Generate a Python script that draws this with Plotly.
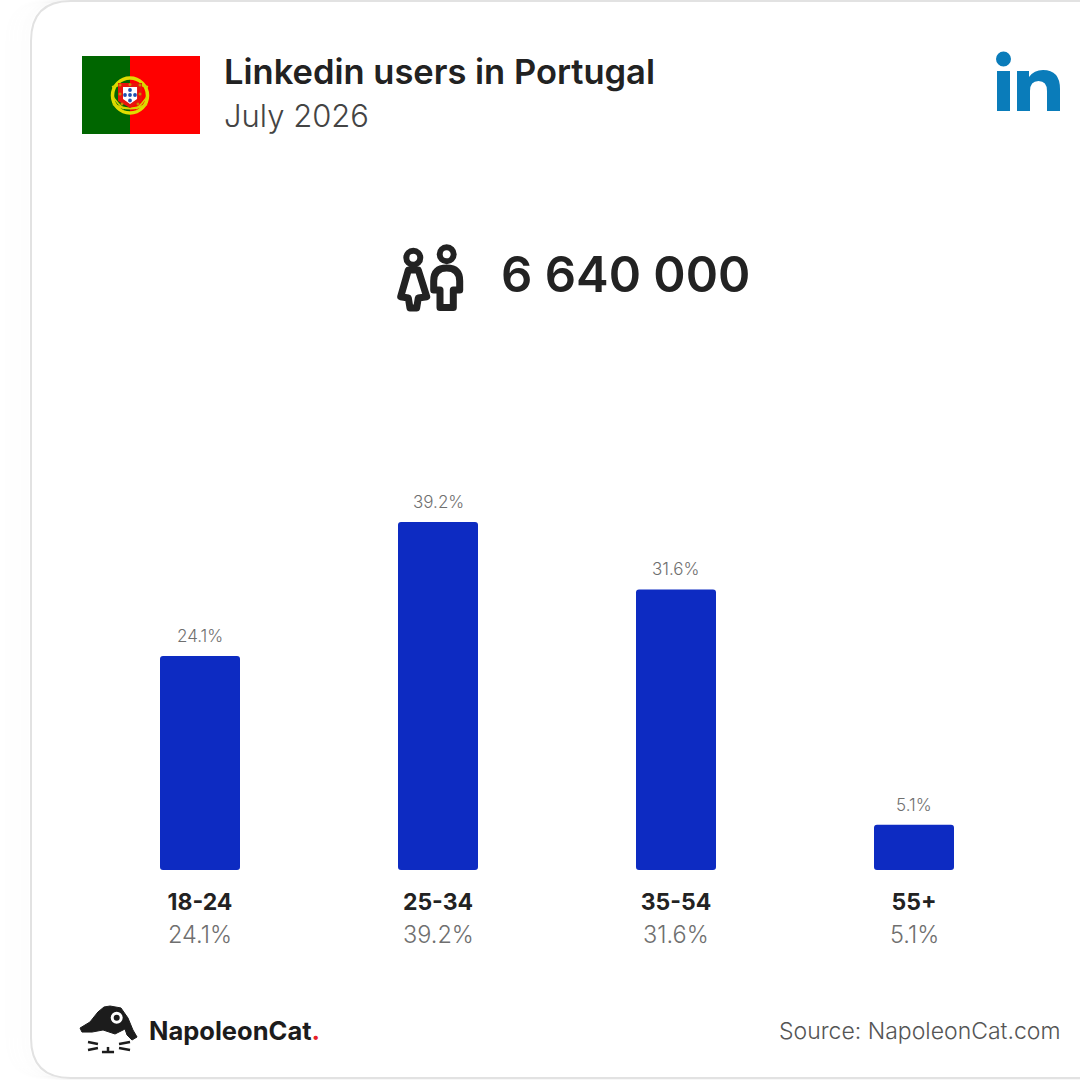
import plotly.graph_objects as go

age_groups = ["18-24", "25-34", "35-54", "55+"]
shares = [24.1, 39.2, 31.6, 5.1]
total_users = "6 640 000"
title_text = "Linkedin users in Portugal"
date_text = "July 2026"
source_text = "Source: NapoleonCat.com"

SANS = "Inter"
DARK = "#222222"
GREY = "#6f6f6f"
BLUE = "#0d2bc2"
LI_BLUE = "#0a7cba"


# shapes and texts are placed in page pixels
def px(x):
    return x / 1080


def py(y):
    return 1 - y / 1080


def path(points, closed=True):
    d = "M " + " L ".join(f"{px(x):.4f},{py(y):.4f}" for x, y in points)
    return d + (" Z" if closed else "")


def card(x0, y0, y1, r):
    # rounded card, the right side runs off the page
    x_end = px(1120)
    return (
        f"M {x_end},{py(y0)} L {px(x0 + r)},{py(y0)} "
        f"Q {px(x0)},{py(y0)} {px(x0)},{py(y0 + r)} "
        f"L {px(x0)},{py(y1 - r)} "
        f"Q {px(x0)},{py(y1)} {px(x0 + r)},{py(y1)} L {x_end},{py(y1)}"
    )


def circle(cx, cy, r, fill="rgba(0,0,0,0)", line=None, width=0):
    return dict(
        type="circle", xref="paper", yref="paper",
        x0=px(cx - r), x1=px(cx + r), y0=py(cy + r), y1=py(cy - r),
        fillcolor=fill, line=dict(color=line or fill, width=width),
    )


def rect(x0, y0, x1, y1, fill):
    return dict(
        type="rect", xref="paper", yref="paper",
        x0=px(x0), x1=px(x1), y0=py(y1), y1=py(y0),
        fillcolor=fill, line=dict(width=0),
    )


def poly(points, fill="rgba(0,0,0,0)", line=None, width=0, closed=True):
    return dict(
        type="path", xref="paper", yref="paper", path=path(points, closed),
        fillcolor=fill, line=dict(color=line or fill, width=width),
    )


def curve(a, c, b, color, width):
    return dict(
        type="path", xref="paper", yref="paper", line=dict(color=color, width=width),
        path=f"M {px(a[0])},{py(a[1])} Q {px(c[0])},{py(c[1])} {px(b[0])},{py(b[1])}",
    )


def label(x, y, text, size, color=DARK, weight=400, xanchor="left"):
    return dict(
        xref="paper", yref="paper", x=px(x), y=py(y), text=text,
        showarrow=False, xanchor=xanchor, yanchor="middle", borderpad=0, borderwidth=0,
        font=dict(family=SANS, size=size, color=color, weight=weight),
    )


shapes = []

# soft shadow and card border
for i, alpha in enumerate([0.002, 0.003, 0.004, 0.005, 0.006, 0.008]):
    shapes.append(dict(
        type="path", xref="paper", yref="paper", layer="below",
        path=card(31 - 4 * (6 - i), 1, 1078, 40),
        line=dict(color=f"rgba(0,0,0,{alpha})", width=4),
    ))
shapes.append(dict(
    type="path", xref="paper", yref="paper", layer="below", path=card(31, 1, 1078, 40),
    fillcolor="white", line=dict(color="#e2e2e2", width=2),
))

# flag
shapes += [
    rect(82, 56, 130, 134, "#006600"),
    rect(130, 56, 200, 134, "#ff0000"),
    circle(130, 95.5, 17.5, line="#e0dc00", width=3.5),
    curve((112, 87), (130, 81), (148, 87), "#d8d400", 2),
    curve((113, 104), (130, 113), (147, 104), "#d8d400", 2),
    curve((113, 97), (118, 104), (124, 109), "#d8d400", 1.5),
    curve((147, 97), (142, 104), (136, 109), "#d8d400", 1.5),
    poly([(118, 83), (142, 83), (142, 101), (130, 108), (118, 101)], fill="#e8140c"),
    poly([(123, 87), (137, 87), (137, 99), (130, 104), (123, 99)], fill="white"),
]
for x, y in [(120, 85), (130, 84.5), (140, 85), (120, 94), (140, 94), (122, 104), (138, 104)]:
    shapes.append(circle(x, y, 1.5, fill="#c88a00"))
for x, y in [(130, 90), (125, 95), (130, 95), (135, 95), (130, 100.5)]:
    shapes.append(circle(x, y, 1.9, fill="#2050b0"))

# linkedin mark
shapes += [
    circle(1003.5, 59, 7.5, fill=LI_BLUE),
    rect(997, 71, 1010, 111, LI_BLUE),
    dict(
        type="path", xref="paper", yref="paper", fillcolor=LI_BLUE, line=dict(width=0),
        path=(
            f"M {px(1017)},{py(111)} L {px(1017)},{py(71)} L {px(1029)},{py(71)} "
            f"L {px(1029)},{py(77)} Q {px(1034)},{py(70)} {px(1043)},{py(70)} "
            f"Q {px(1060)},{py(70)} {px(1060)},{py(89)} L {px(1060)},{py(111)} "
            f"L {px(1047)},{py(111)} L {px(1047)},{py(91)} "
            f"Q {px(1047)},{py(81)} {px(1038.5)},{py(81)} "
            f"Q {px(1030)},{py(81)} {px(1030)},{py(91)} L {px(1030)},{py(111)} Z"
        ),
    ),
]

# people icon
shapes += [
    circle(413.3, 257.7, 7, line=DARK, width=6),
    circle(446.7, 254.3, 7, line=DARK, width=6),
    poly(
        [(408.3, 270), (418.3, 270), (426.7, 296.7), (418.3, 298), (416.7, 308),
         (410, 308), (408.3, 298), (400.7, 296.7)],
        line=DARK, width=7,
    ),
    dict(
        type="path", xref="paper", yref="paper", line=dict(color=DARK, width=7),
        path=(
            f"M {px(433.7)},{py(290)} L {px(433.7)},{py(281)} "
            f"Q {px(433.7)},{py(268)} {px(446.7)},{py(268)} "
            f"Q {px(459.7)},{py(268)} {px(459.7)},{py(281)} L {px(459.7)},{py(290)} "
            f"L {px(453.3)},{py(290)} L {px(453.3)},{py(307.5)} L {px(440)},{py(307.5)} "
            f"L {px(440)},{py(290)} Z"
        ),
    ),
]

# napoleoncat logo
shapes += [
    poly(
        [(80, 1028), (90, 1022), (98, 1012), (104, 1007), (110, 1006), (121, 1008),
         (128, 1018), (133, 1030), (137, 1037), (132, 1040), (127, 1035), (125, 1029),
         (115, 1034), (103, 1030), (92, 1032), (82, 1032)],
        fill="#1c1c1c", line="#1c1c1c", width=1,
    ),
    circle(116.7, 1017.7, 6, fill="white"),
    circle(116.7, 1017.7, 3, fill="#1c1c1c"),
]
for a, b in [
    ((88, 1042), (98, 1044)), ((88, 1050), (98, 1048)),
    ((119, 1044), (130, 1042)), ((119, 1048), (130, 1050)),
    ((102, 1052), (114, 1052)), ((108, 1047), (108, 1052)),
]:
    shapes.append(poly([a, b], line="#1c1c1c", width=2.5, closed=False))

# small white masks so the bars are rounded at the foot too
for i in range(len(age_groups)):
    left = 200 + 238 * i - 40
    right = left + 80
    for cx, d in [(left, 3), (right, -3)]:
        shapes.append(dict(
            type="path", xref="paper", yref="paper", fillcolor="white", line=dict(width=0),
            path=(
                f"M {px(cx)},{py(870.5)} L {px(cx)},{py(867)} "
                f"Q {px(cx)},{py(870)} {px(cx + d)},{py(870)} L {px(cx + d)},{py(870.5)} Z"
            ),
        ))

annotations = [
    label(224, 71, title_text, 34.5, weight=600),
    label(224, 116, date_text, 31, color="#444444", weight=300),
    label(501, 274, total_users, 49, weight=600),
    label(149, 1030, "NapoleonCat<span style='color:#e8202a'>.</span>", 25.5, color="#1c1c1c", weight=700),
    label(1060, 1031, source_text, 23, color="#555555", weight=300, xanchor="right"),
]

# value above each bar and share under each age group
for name, value in zip(age_groups, shares):
    annotations.append(dict(
        x=name, y=value, xref="x", yref="y", text=f"{value}%", showarrow=False,
        yshift=20, yanchor="middle",
        font=dict(family=SANS, size=17, color=GREY, weight=300),
    ))
    annotations.append(dict(
        x=name, y=py(934), xref="x", yref="paper", text=f"{value}%", showarrow=False,
        yanchor="middle",
        font=dict(family=SANS, size=23.5, color=GREY, weight=300),
    ))

fig = go.Figure(go.Bar(
    x=age_groups, y=shares, marker=dict(color=BLUE, line=dict(width=0)), width=80 / 238,
))

fig.update_layout(
    width=1080, height=1080,
    margin=dict(l=0, r=0, t=0, b=0),
    paper_bgcolor="white", plot_bgcolor="rgba(0,0,0,0)",
    showlegend=False, barcornerradius=3,
    shapes=shapes, annotations=annotations,
    xaxis=dict(
        type="category", range=[-200 / 238, 880 / 238], showgrid=False, zeroline=False,
        showline=False, ticks="", ticklabelstandoff=16,
        tickfont=dict(family=SANS, size=23, color=DARK, weight=700),
    ),
    yaxis=dict(
        domain=[210 / 1080, 1], range=[0, 870 / (348 / 39.2)], visible=False,
    ),
)

fig.write_html(
    "out.html",
    config=dict(displayModeBar=False),
    post_script=(
        "document.body.style.margin='0';document.body.style.overflow='hidden';"
        "document.querySelectorAll('.shapelayer path').forEach(p=>p.style.strokeLinejoin='round');"
    ),
)
